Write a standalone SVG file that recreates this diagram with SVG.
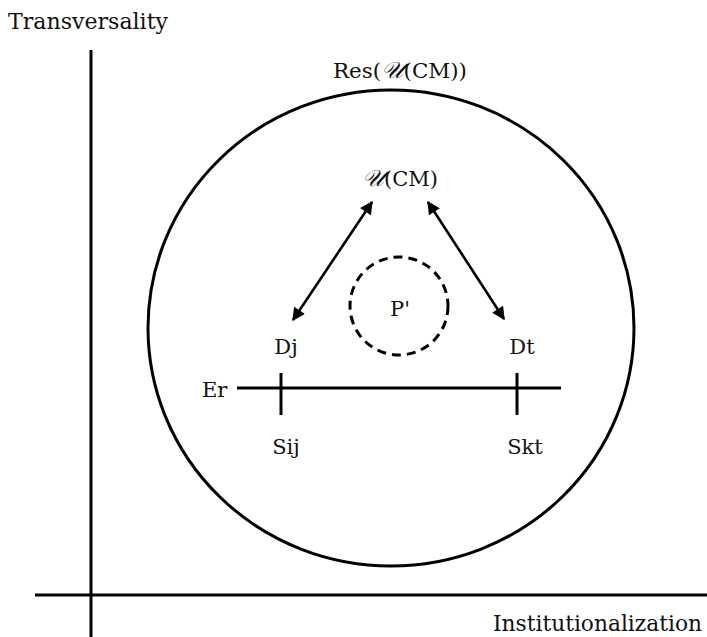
<svg xmlns="http://www.w3.org/2000/svg" width="707" height="637" viewBox="0 0 707 637">
<style>
text{font-family:"DejaVu Serif","Liberation Serif",serif;fill:#111;}
.ln{stroke:#000;stroke-width:3;fill:none;}
.ar{stroke:#000;stroke-width:2.6;fill:none;}
</style>
<defs>
<marker id="ah" viewBox="0 0 10 10" refX="9" refY="5" markerWidth="5.5" markerHeight="5" orient="auto-start-reverse" markerUnits="strokeWidth">
<path d="M0,0 L10,5 L0,10 Z" fill="#000"/>
</marker>
</defs>
<rect width="707" height="637" fill="#fff"/>
<g id="axes">
<line class="ln" x1="91" y1="50" x2="91" y2="637"/>
<line class="ln" x1="35" y1="595" x2="707" y2="595"/>
<text x="8" y="29" font-size="22" textLength="160" lengthAdjust="spacingAndGlyphs">Transversality</text>
<text x="493" y="631" font-size="22" textLength="209" lengthAdjust="spacingAndGlyphs">Institutionalization</text>
</g>
<g id="res">
<ellipse class="ln" cx="391" cy="328" rx="243" ry="238"/>
<text x="333" y="78" font-size="20" textLength="134" lengthAdjust="spacingAndGlyphs">Res(<tspan font-style="italic" font-size="23">𝒰</tspan>(CM))</text>
</g>
<g id="ucm">
<text x="362" y="186" font-size="20" textLength="76" lengthAdjust="spacingAndGlyphs"><tspan font-style="italic" font-size="23">𝒰</tspan>(CM)</text>
</g>
<g id="p">
<circle cx="399" cy="306" r="49" fill="none" stroke="#000" stroke-width="3" stroke-dasharray="9,6"/>
<text x="400" y="316" font-size="21" text-anchor="middle">P'</text>
</g>
<g id="dj"><text x="286" y="354" font-size="21" text-anchor="middle">Dj</text></g>
<g id="dt"><text x="522" y="354" font-size="21" text-anchor="middle">Dt</text></g>
<g id="er"><text x="202" y="397" font-size="21">Er</text></g>
<g id="sij"><text x="286" y="454" font-size="21" text-anchor="middle">Sij</text></g>
<g id="skt"><text x="525" y="454" font-size="21" text-anchor="middle">Skt</text></g>
<g id="connectors">
<line class="ar" x1="372" y1="202" x2="293" y2="320" marker-start="url(#ah)" marker-end="url(#ah)"/>
<line class="ar" x1="428" y1="202" x2="504" y2="319" marker-start="url(#ah)" marker-end="url(#ah)"/>
<line class="ln" x1="237" y1="388" x2="561" y2="388"/>
<line class="ln" x1="281" y1="373" x2="281" y2="415"/>
<line class="ln" x1="517" y1="373" x2="517" y2="415"/>
</g>
</svg>
